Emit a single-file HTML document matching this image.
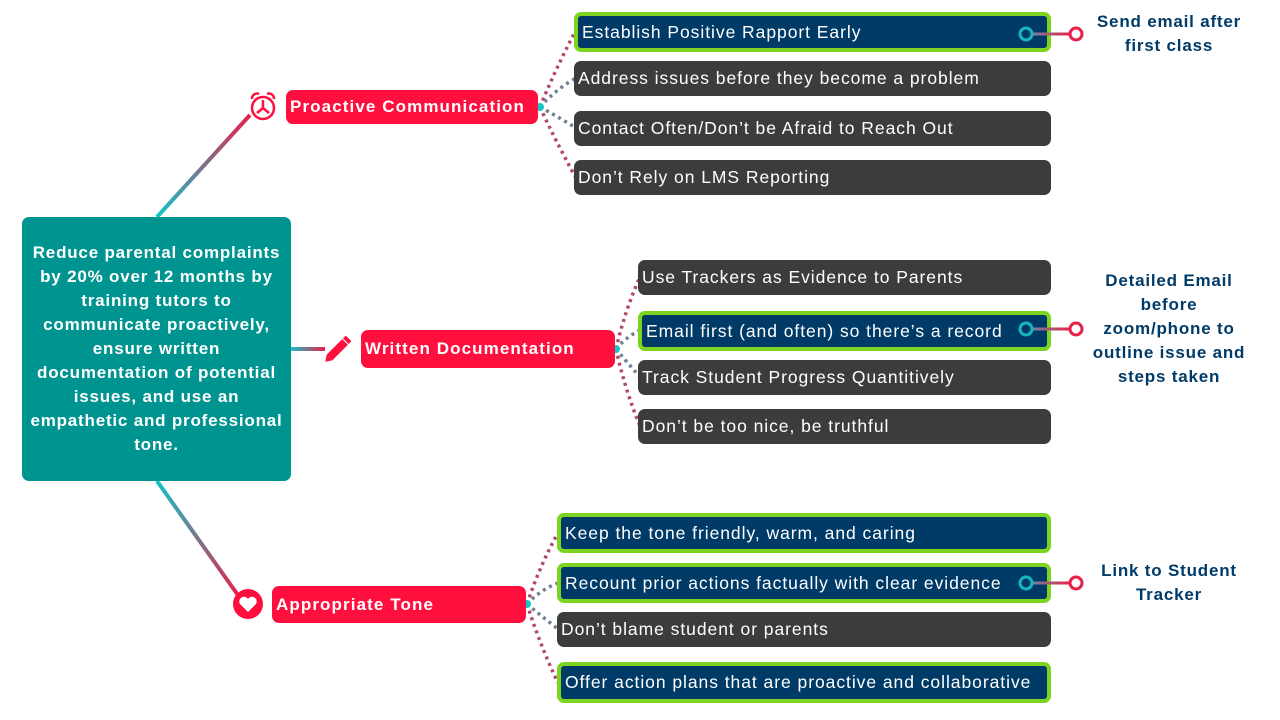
<!DOCTYPE html>
<html><head><meta charset="utf-8"><style>
body{margin:0;width:1280px;height:720px;background:#fff;position:relative;overflow:hidden;font-family:"Liberation Sans",sans-serif}
.b{position:absolute;box-sizing:border-box;border-radius:7px;color:#fff;font-size:17.5px;display:flex;align-items:center;white-space:nowrap;letter-spacing:0.95px}
.d{background:#3c3c3c;padding-left:4px}
.n{background:#003b68;border:4px solid #7ed321;padding-left:4px}
.r{background:#ff0f3e;font-weight:bold;font-size:17px;padding-left:4px;letter-spacing:1.1px}
.c{position:absolute;color:#003b68;font-weight:bold;font-size:17px;text-align:center;line-height:24px;letter-spacing:0.8px}
svg{position:absolute;left:0;top:0}
</style></head><body>
<svg width="1280" height="720">
<defs>
<linearGradient id="g1" gradientUnits="userSpaceOnUse" x1="157" y1="217" x2="250" y2="115"><stop offset="0" stop-color="#10c5c9"/><stop offset="1" stop-color="#e8204a"/></linearGradient>
<linearGradient id="g2" gradientUnits="userSpaceOnUse" x1="290" y1="0" x2="325" y2="0"><stop offset="0" stop-color="#10c5c9"/><stop offset="1" stop-color="#e8204a"/></linearGradient>
<linearGradient id="g3" gradientUnits="userSpaceOnUse" x1="157" y1="481" x2="240" y2="598"><stop offset="0" stop-color="#10c5c9"/><stop offset="1" stop-color="#e8204a"/></linearGradient>
</defs>
<line x1="157" y1="217" x2="250" y2="115" stroke="url(#g1)" stroke-width="4"/>
<line x1="290" y1="349" x2="325" y2="349" stroke="url(#g2)" stroke-width="4"/>
<line x1="157" y1="481" x2="240" y2="598" stroke="url(#g3)" stroke-width="4"/>
<g fill="none" stroke-width="3.5" stroke-dasharray="3 4">
<path d="M540 107 Q555 70 576 30" stroke="#b04a6a"/>
<path d="M540 107 Q555 90 576 78" stroke="#6f8092"/>
<path d="M540 107 Q555 115 576 128" stroke="#6f8092"/>
<path d="M540 107 Q555 140 576 178" stroke="#b04a6a"/>
<path d="M616 349 Q625 310 640 277" stroke="#b04a6a"/>
<path d="M616 349 Q625 338 640 330" stroke="#6f8092"/>
<path d="M616 349 Q625 360 640 377" stroke="#6f8092"/>
<path d="M616 349 Q625 390 640 426" stroke="#b04a6a"/>
<path d="M527 604 Q540 565 558 533" stroke="#b04a6a"/>
<path d="M527 604 Q540 590 558 583" stroke="#6f8092"/>
<path d="M527 604 Q540 615 558 629" stroke="#6f8092"/>
<path d="M527 604 Q540 645 558 683" stroke="#b04a6a"/>
</g>
<circle cx="540" cy="107" r="4" fill="#17c3c8"/><circle cx="616" cy="349" r="4" fill="#17c3c8"/><circle cx="527" cy="604" r="4" fill="#17c3c8"/>
<g stroke="#ff0f3e" stroke-width="2.5" fill="none"><circle cx="263" cy="108" r="11"/><path d="M263 108 V100 M263 108 L257 113 M263 108 L269 113"/><path d="M252 99 a5 5 0 0 1 7 -5 M274 99 a5 5 0 0 0 -7 -5"/></g>
<g transform="translate(338 349) rotate(-45)"><rect x="-12" y="-4" width="22" height="8" fill="#ff0f3e"/><polygon points="-12,-4 -18,0 -12,4" fill="#ff0f3e"/><rect x="11" y="-4" width="4" height="8" fill="#ff0f3e"/></g>
<circle cx="248" cy="604" r="15" fill="#ff0f3e"/>
<path d="M248 612 L240 604 a4.5 4.5 0 0 1 8 -5 a4.5 4.5 0 0 1 8 5 Z" fill="#fff"/>
</svg>
<div class="b" style="left:22px;top:217px;width:269px;height:264px;background:#009490;font-weight:bold;font-size:17px;white-space:normal;text-align:center;justify-content:center;line-height:24px;padding:0 3px;letter-spacing:0.8px">Reduce parental complaints by 20% over 12 months by training tutors to communicate proactively, ensure written documentation of potential issues, and use an empathetic and professional tone.</div>
<div class="b r" style="left:286px;top:90px;width:252px;height:34px">Proactive Communication</div>
<div class="b r" style="left:361px;top:330px;width:254px;height:38px">Written Documentation</div>
<div class="b r" style="left:272px;top:586px;width:254px;height:37px">Appropriate Tone</div>
<div class="b n" style="left:574px;top:12px;width:477px;height:40px">Establish Positive Rapport Early</div>
<div class="b d" style="left:574px;top:61px;width:477px;height:35px">Address issues before they become a problem</div>
<div class="b d" style="left:574px;top:111px;width:477px;height:35px">Contact Often/Don’t be Afraid to Reach Out</div>
<div class="b d" style="left:574px;top:160px;width:477px;height:35px">Don’t Rely on LMS Reporting</div>
<div class="b d" style="left:638px;top:260px;width:413px;height:35px">Use Trackers as Evidence to Parents</div>
<div class="b n" style="left:638px;top:311px;width:413px;height:40px">Email first (and often) so there’s a record</div>
<div class="b d" style="left:638px;top:360px;width:413px;height:35px">Track Student Progress Quantitively</div>
<div class="b d" style="left:638px;top:409px;width:413px;height:35px">Don’t be too nice, be truthful</div>
<div class="b n" style="left:557px;top:513px;width:494px;height:40px">Keep the tone friendly, warm, and caring</div>
<div class="b n" style="left:557px;top:563px;width:494px;height:40px">Recount prior actions factually with clear evidence</div>
<div class="b d" style="left:557px;top:612px;width:494px;height:35px">Don’t blame student or parents</div>
<div class="b n" style="left:557px;top:662px;width:494px;height:41px">Offer action plans that are proactive and collaborative</div>
<svg width="1280" height="720">
<defs><linearGradient id="g4" gradientUnits="userSpaceOnUse" x1="1030" y1="0" x2="1070" y2="0"><stop offset="0" stop-color="#6a8aa0"/><stop offset="1" stop-color="#e8204a"/></linearGradient></defs>
<g stroke-width="3" fill="none">
<line x1="1032" y1="34" x2="1070" y2="34" stroke="url(#g4)"/><circle cx="1026" cy="34" r="6" stroke="#17b5bc"/><circle cx="1076" cy="34" r="6" stroke="#e8204a" fill="#fff"/>
<line x1="1032" y1="329" x2="1070" y2="329" stroke="url(#g4)"/><circle cx="1026" cy="329" r="6" stroke="#17b5bc"/><circle cx="1076" cy="329" r="6" stroke="#e8204a" fill="#fff"/>
<line x1="1032" y1="583" x2="1070" y2="583" stroke="url(#g4)"/><circle cx="1026" cy="583" r="6" stroke="#17b5bc"/><circle cx="1076" cy="583" r="6" stroke="#e8204a" fill="#fff"/>
</g>
</svg>
<div class="c" style="left:1084px;top:10px;width:170px">Send email after<br>first class</div>
<div class="c" style="left:1084px;top:269px;width:170px">Detailed Email<br>before<br>zoom/phone to<br>outline issue and<br>steps taken</div>
<div class="c" style="left:1084px;top:559px;width:170px">Link to Student<br>Tracker</div>
</body></html>
